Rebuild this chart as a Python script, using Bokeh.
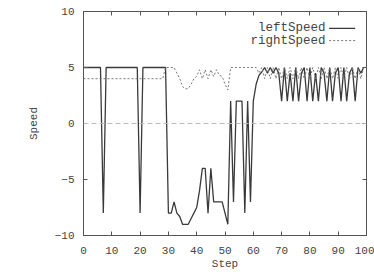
from bokeh.plotting import figure
from bokeh.models import LinearAxis, Span, Label, Arrow, FixedTicker, Range1d, CustomJSTickFormatter
from bokeh.embed import file_html
from bokeh.resources import INLINE

# ---- data ----
steps = list(range(100))
left_speed = (
    [5] * 7 + [-8] + [5] * 12 + [-8] + [5] * 9 +
    [-8, -8, -7, -8, -8.3, -9, -9, -9, -8.5, -8,
     -7.5, -6, -4, -4, -8, -4, -7, -7, -7, -7,
     -8, -9, 2, -7, 2, 2, 2, -8, 2, -7,
     2, 3.5, 4.3, 4.6, 5, 4.5, 5, 4.5, 5, 4.5,
     2, 5, 2, 4.5, 2, 5, 2, 4.5, 5, 2,
     5, 2, 4.5, 2, 5, 4.5, 2, 5, 2, 4.5,
     5, 2, 5, 2, 4.5, 5, 2, 5, 4.5, 5]
)
right_speed = (
    [4] * 29 +
    [5, 5, 5, 5, 4.5, 4, 3.3, 3.1, 3.1, 3.5,
     4, 4.2, 4.8, 4, 4.8, 4, 4.8, 4.2, 4.8, 4.3,
     4.2, 3.5, 3] +
    [5] * 10 +
    [4.5, 5, 4, 5, 4, 5, 4, 5, 4, 5,
     4, 5, 4, 5, 4, 5, 4, 5, 4, 5,
     4, 5, 4, 5, 4, 5, 4, 5, 4, 5,
     4, 5, 4, 5, 4, 5, 4, 5]
)
x_ticks = [0, 10, 20, 30, 40, 50, 60, 70, 80, 90, 100]
y_ticks = [-10, -5, 0, 5, 10]
series_names = ["leftSpeed", "rightSpeed"]

FONT = "Liberation Mono"
TXT = "#444444"
FRAME = "#555555"

p = figure(width=374, height=272, x_range=Range1d(0, 100), y_range=Range1d(-10, 10),
           output_backend="svg", toolbar_location=None,
           min_border_left=83, min_border_right=8, min_border_top=11, min_border_bottom=35,
           x_axis_label="Step", y_axis_label="Speed")
p.xgrid.visible = False
p.ygrid.visible = False
p.outline_line_color = FRAME
p.background_fill_color = "white"
p.border_fill_color = "white"

p.xaxis.ticker = FixedTicker(ticks=x_ticks)
p.yaxis.ticker = FixedTicker(ticks=y_ticks)

for ax in p.axis:
    ax.major_tick_in = 4
    ax.major_tick_out = 0
    ax.minor_tick_in = 0
    ax.minor_tick_out = 0
    ax.axis_line_color = FRAME
    ax.major_tick_line_color = FRAME
    ax.major_label_text_font = FONT
    ax.major_label_text_font_size = "11px"
    ax.major_label_text_color = TXT
    ax.axis_label_text_font = FONT
    ax.axis_label_text_font_size = "11px"
    ax.axis_label_text_font_style = "normal"
    ax.axis_label_text_color = TXT

p.yaxis.major_label_standoff = 9
p.yaxis.axis_label_standoff = 12
p.xaxis.major_label_standoff = 11
p.xaxis.axis_label_standoff = 1

# mirror ticks (gnuplot style), no labels
blank = CustomJSTickFormatter(code="return '';")
right = LinearAxis(ticker=FixedTicker(ticks=y_ticks), formatter=blank,
                   major_tick_in=4, major_tick_out=0, minor_tick_in=0, minor_tick_out=0,
                   major_label_standoff=0, axis_line_color=FRAME, major_tick_line_color=FRAME)
top = LinearAxis(ticker=FixedTicker(ticks=x_ticks), formatter=blank,
                 major_tick_in=4, major_tick_out=0, minor_tick_in=0, minor_tick_out=0,
                 major_label_standoff=0, axis_line_color=FRAME, major_tick_line_color=FRAME)
p.add_layout(right, "right")
p.add_layout(top, "above")

p.add_layout(Span(location=0, dimension="width", line_color="#bbbbbb",
                  line_dash="5 3", line_width=1))

p.line(steps, left_speed, line_color="#3a3a3a", line_width=1.3)
p.line(steps, right_speed, line_color="#777777", line_width=1, line_dash="2 2")

# gnuplot-like key: label then sample on the right
key_y = [8.5, 7.4]
styles = [dict(line_color="#3a3a3a", line_width=1.3),
          dict(line_color="#777777", line_width=1, line_dash="2 2")]
for name, ky, st in zip(series_names, key_y, styles):
    p.add_layout(Label(x=85.5, y=ky, text=name, text_align="right", text_baseline="middle",
                       text_font=FONT, text_font_size="12.5px", text_color=TXT))
    p.add_layout(Arrow(end=None, x_start=86.8, y_start=ky, x_end=96, y_end=ky, **st))

open("out.html", "w").write(file_html(p, INLINE))
